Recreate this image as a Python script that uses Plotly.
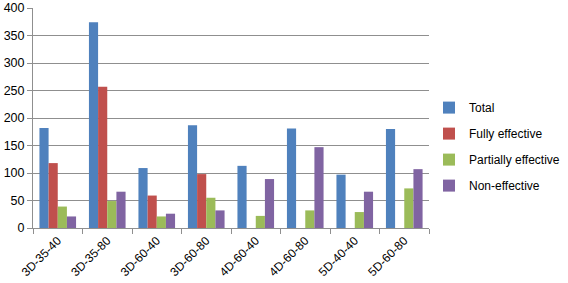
import plotly.graph_objects as go

categories = ["3D-35-40", "3D-35-80", "3D-60-40", "3D-60-80", "4D-60-40", "4D-60-80", "5D-40-40", "5D-60-80"]
total = [182, 374, 109, 187, 113, 181, 97, 180]
fully = [118, 257, 59, 98, 0, 0, 0, 0]
partially = [39, 49, 21, 55, 22, 32, 29, 72]
non_effective = [21, 66, 26, 32, 89, 147, 66, 107]

series_names = ["Total", "Fully effective", "Partially effective", "Non-effective"]
series_values = [total, fully, partially, non_effective]
colors = ["#4F81BD", "#C0504D", "#9BBB59", "#8064A2"]

fig = go.Figure()
for name, vals, col in zip(series_names, series_values, colors):
    fig.add_trace(go.Bar(name=name, x=categories, y=vals, legendgroup=name,
                         marker=dict(color=col, line=dict(width=0))))

font = "Liberation Sans, Arial, sans-serif"
fig.update_layout(
    width=568, height=283,
    margin=dict(l=33, r=0, t=8, b=55),
    plot_bgcolor="white", paper_bgcolor="white",
    barmode="group", bargap=0.26, bargroupgap=0,
    font=dict(family=font, size=12, color="#000000"),
    showlegend=True,
    legend=dict(xref="container", x=0.7553, xanchor="left",
                yref="paper", y=0.37, yanchor="middle",
                font=dict(size=12, family=font), traceorder="grouped", tracegroupgap=7,
                itemwidth=30, bgcolor="rgba(0,0,0,0)"),
)
fig.update_yaxes(range=[0, 400], dtick=50, showgrid=True, gridcolor="#8f8f8f", gridwidth=1,
                 showline=True, linecolor="#8f8f8f", ticks="outside", ticklen=5, tickcolor="#8f8f8f",
                 zeroline=False, tickfont=dict(size=12.5), automargin=False)
fig.update_xaxes(showline=True, linecolor="#8f8f8f", ticks="outside", ticklen=5, tickcolor="#8f8f8f",
                 tickson="boundaries", tickangle=-45, tickfont=dict(size=12), automargin=False)

fig.write_html("out.html", config={"displayModeBar": False},
               post_script="document.body.style.margin='0';")
